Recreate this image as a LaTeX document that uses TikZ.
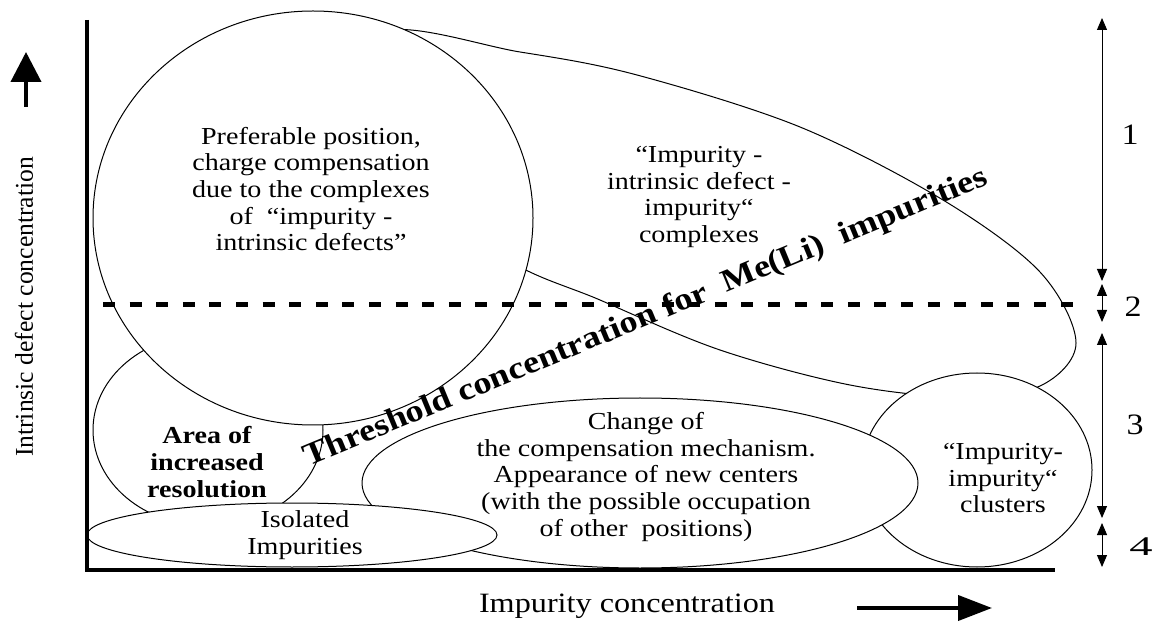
\documentclass[tikz,border=0pt]{standalone}
\usepackage{fontspec}
\setmainfont{Liberation Serif}[FakeStretch=1.15]
\newfontfamily\axisfont{Liberation Serif}
\usetikzlibrary{arrows.meta}

\begin{document}
\begin{tikzpicture}[x=0.5pt,y=-0.5pt]
\tikzstyle{every node} = [align=center,inner sep=0pt,font=\fontsize{12.2}{13.3}\selectfont]
\tikzstyle{region} = [draw,fill=white,line width=0.5pt]
\tikzstyle{axis} = [line width=2pt]
\tikzstyle{bigarrow} = [line width=2pt,-{Triangle[length=17pt,width=12.5pt]}]
\tikzstyle{spanarrow} = [line width=0.5pt,{Triangle[length=6pt,width=5pt]}-{Triangle[length=6pt,width=5pt]}]
\tikzstyle{level} = [font=\fontsize{14.8}{15}\selectfont]

\useasboundingbox (0,0) rectangle (1160,624);

% regions, from back to front
\draw[region] plot[smooth cycle,tension=0.55] coordinates {(380,34) (520,52) (637,75) (800,127) (943,200) (1040,272) (1076,343) (1040,386) (960,397) (850,385) (720,350) (600,300) (500,255) (380,150)};
\draw[region] (977,470) ellipse [x radius=115,y radius=97];
\draw[region] (640,483) ellipse [x radius=278,y radius=85];
\draw[region] (208,430) ellipse [x radius=115,y radius=96];
\draw[region] (313,218) ellipse [x radius=220,y radius=207];
\draw[region] (292,535) ellipse [x radius=205,y radius=32];

% threshold level and axes
\draw[line width=2.5pt,dash pattern=on 6pt off 7.3pt] (103,305) -- (1075,305);
\draw[axis] (87,20) -- (87,570) -- (1055,570);

\path (311,189) node (preferable) {Preferable position,\\charge compensation\\due to the complexes\\of~ “impurity -\\intrinsic defects”}
	(699,197) node (complexes) {“Impurity -\\intrinsic defect -\\impurity“\\complexes}
	(646,477) node (change) {Change of\\the compensation mechanism.\\Appearance of new centers\\(with the possible occupation\\of other~ positions)}
	(1003,478) node (clusters) {“Impurity-\\impurity“\\clusters}
	(207,462) node[font=\fontsize{12.2}{13.3}\selectfont\bfseries] (area) {Area of\\increased\\resolution}
	(305,535) node (isolated) {Isolated\\Impurities};

\node[rotate=22.5,font=\fontsize{15.7}{16}\selectfont\bfseries] (threshold) at (646,318) {Threshold concentration for~ Me(Li)~ impurities};

% axis labels
\node[rotate=90,font=\axisfont\fontsize{12.8}{13}\selectfont] (ylabel) at (24,307) {Intrinsic defect concentration};
\node[font=\fontsize{14}{14}\selectfont] (xlabel) at (627,606) {Impurity concentration};
\coordinate (up0) at (26,107);
\coordinate (up1) at (26,52);
\coordinate (right0) at (857,608);
\coordinate (right1) at (992,608);
\draw[bigarrow,-{Triangle[length=15pt,width=15pt]}] (up0) -- (up1);
\draw[bigarrow] (right0) -- (right1);

% concentration ranges
\foreach \a/\b in {18/281,284/322,333/518,523/567}
	\draw[spanarrow] (1102,\a) -- (1102,\b);
\node[level] (zone1) at (1130,135) {1};
\node[level] (zone2) at (1133,307) {2};
\node[level] (zone3) at (1135,425) {3};
\node[level,font=\fontsize{13.5}{14}\selectfont,xscale=1.5,transform shape] (zone4) at (1141,547) {4};
\end{tikzpicture}
\end{document}
